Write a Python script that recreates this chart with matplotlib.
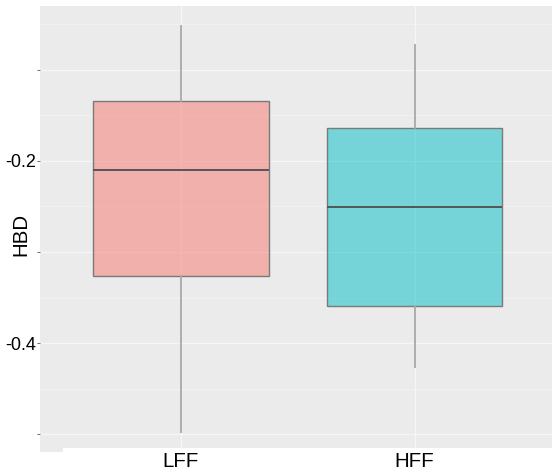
import matplotlib.pyplot as plt
from matplotlib.patches import Rectangle

plt.rcParams['font.family'] = ['Liberation Sans', 'DejaVu Sans']

groups = ['LFF', 'HFF']
whisker_lo = [-0.497, -0.4257]
q1 = [-0.3265, -0.3591]
med = [-0.2099, -0.2501]
q3 = [-0.1345, -0.1635]
whisker_hi = [-0.0519, -0.0727]
fills = ['#F8766D', '#00BFC4']

ytick_vals = [-0.5, -0.4, -0.3, -0.2, -0.1]
ytick_labels = ['', '-0.4', '', '-0.2', '']
yminor_vals = [-0.45, -0.35, -0.25, -0.15, -0.05]

fig = plt.figure(figsize=(5.52, 4.75), dpi=100)
ax = fig.add_axes([40 / 552, 27 / 475, 512 / 552, 442 / 475])
ax.set_facecolor('#EBEBEB')
for s in ax.spines.values():
    s.set_visible(False)

stats = []
for i, g in enumerate(groups):
    stats.append(dict(label=g, whislo=whisker_lo[i], q1=q1[i], med=med[i],
                      q3=q3[i], whishi=whisker_hi[i], fliers=[]))

bp = ax.bxp(stats, positions=[1, 2], widths=0.75, patch_artist=True,
            showcaps=False, showfliers=False,
            boxprops=dict(edgecolor='#7A7A7A', linewidth=1.0),
            medianprops=dict(color='#555555', linewidth=1.4),
            whiskerprops=dict(color='#A8A8A8', linewidth=1.3),
            zorder=3)
for patch, c in zip(bp['boxes'], fills):
    patch.set_facecolor(c + '80')

ax.set_xlim(0.397, 2.5875)
ax.set_ylim(-0.515, -0.030)

ax.set_yticks(ytick_vals)
ax.set_yticklabels(ytick_labels)
ax.set_yticks(yminor_vals, minor=True)
ax.set_xticks([1, 2])
ax.set_xticklabels(groups)

ax.grid(which='major', color='#F6F6F6', linewidth=0.9, zorder=0)
ax.grid(which='minor', axis='y', color='#F3F3F3', linewidth=0.6, zorder=0)
ax.set_axisbelow(True)

ax.tick_params(axis='y', which='major', length=2, width=0.6, color='#555555',
               pad=1, labelsize=13, labelcolor='black')
ax.tick_params(axis='y', which='minor', length=0)
ax.tick_params(axis='x', length=0, pad=3, labelsize=14.8, labelcolor='black')

fig.text(20.5 / 552, 1 - 234 / 475, 'HBD', rotation=90, ha='center',
         va='center', fontsize=14.8)

# small strip under the panel's lower-left corner
fig.patches.append(Rectangle((40 / 552, 23 / 475), 23 / 552, 4 / 475,
                             transform=fig.transFigure, facecolor='#EBEBEB',
                             edgecolor='none'))

fig.savefig('out.png', dpi=100)
